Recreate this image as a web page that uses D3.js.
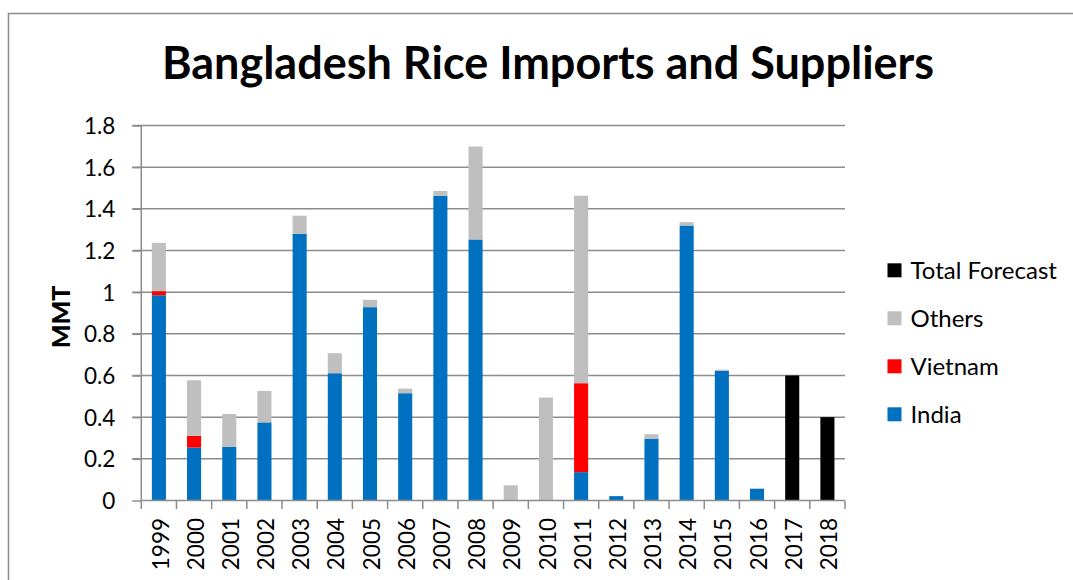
<!DOCTYPE html>
<html><head><meta charset="utf-8">
<script src="https://cdn.jsdelivr.net/npm/d3@7"></script>
<style>
html,body{margin:0;padding:0;background:#fff;}
svg{display:block;font-family:Lato,"Open Sans",sans-serif;}
</style></head>
<body>
<svg id="c" width="1073" height="580"></svg>
<script>
const years = ["1999","2000","2001","2002","2003","2004","2005","2006","2007","2008","2009","2010","2011","2012","2013","2014","2015","2016","2017","2018"];
const india    = [0.985,0.254,0.257,0.375,1.280,0.611,0.928,0.515,1.463,1.253,0,0,0.136,0.021,0.297,1.320,0.622,0.056,0,0];
const vietnam  = [0.020,0.057,0,0,0,0,0,0,0,0,0,0,0.427,0,0,0,0,0,0,0];
const others   = [0.232,0.266,0.158,0.151,0.087,0.096,0.035,0.022,0.023,0.446,0.073,0.494,0.900,0,0.021,0.016,0.006,0.003,0,0];
const forecast = [0,0,0,0,0,0,0,0,0,0,0,0,0,0,0,0,0,0,0.600,0.400];
const yTicks = [0,0.2,0.4,0.6,0.8,1,1.2,1.4,1.6,1.8];
const seriesNames = ["India","Vietnam","Others","Total Forecast"];
const seriesColors = ["#0070C0","#FF0000","#BFBFBF","#000000"];
const legendOrder = ["Total Forecast","Others","Vietnam","India"];
const titleText = "Bangladesh Rice Imports and Suppliers";
const yTitle = "MMT";

const svg = d3.select("#c");
const L = 141.3, R = 845, T = 125.5, B = 500.5;

// frame
svg.append("path").attr("d","M8.5,580 V13.5 H1073").attr("fill","none").attr("stroke","#8c8c8c").attr("stroke-width",1.5);

const x = d3.scaleBand().domain(years).range([L,R]).paddingInner(0.6).paddingOuter(0.3);
const y = d3.scaleLinear().domain([0,1.8]).range([B,T]);

// gridlines
svg.append("g").selectAll("line").data(yTicks.filter(d=>d>0)).join("line")
  .attr("x1",L-9).attr("x2",R).attr("y1",d=>y(d)).attr("y2",d=>y(d))
  .attr("stroke","#8c8c8c").attr("stroke-width",1.5);

// stacked bars
const rows = years.map((yr,i)=>({year:yr,"India":india[i],"Vietnam":vietnam[i],"Others":others[i],"Total Forecast":forecast[i]}));
const stack = d3.stack().keys(seriesNames)(rows);
const color = d3.scaleOrdinal().domain(seriesNames).range(seriesColors);
svg.append("g").selectAll("g").data(stack).join("g").attr("fill",d=>color(d.key))
  .selectAll("rect").data(d=>d).join("rect")
  .attr("x",d=>x(d.data.year)).attr("width",x.bandwidth())
  .attr("y",d=>y(d[1])).attr("height",d=>Math.max(0,y(d[0])-y(d[1])));

// y axis
const yAxis = svg.append("g").attr("transform",`translate(${L},0)`)
  .call(d3.axisLeft(y).tickValues(yTicks).tickFormat(d3.format("~g")).tickSize(9).tickPadding(17));
yAxis.select(".domain").attr("stroke","#8c8c8c").attr("stroke-width",1.5).attr("d",`M0,${T}V${B}`);
yAxis.selectAll(".tick line").attr("stroke","#8c8c8c").attr("stroke-width",1.5);
yAxis.selectAll("text").attr("font-size",22.5).attr("fill","#000").attr("font-family","Lato").attr("dy","0.36em");

// x axis
const xAxis = svg.append("g").attr("transform",`translate(0,${B})`)
  .call(d3.axisBottom(x).tickSize(0).tickPadding(0));
xAxis.select(".domain").attr("stroke","#8c8c8c").attr("stroke-width",1.5).attr("d",`M${L},0H${R}`);
xAxis.selectAll(".tick text").attr("font-size",22.5).attr("fill","#000").attr("font-family","Lato")
  .attr("transform","translate(1.5,17.5) rotate(-90)").attr("text-anchor","end").attr("dy","0.36em").attr("x",0).attr("y",0);
// band boundary ticks
const bounds = d3.range(years.length+1).map(i=> L + i*(R-L)/years.length);
svg.append("g").selectAll("line").data(bounds).join("line")
  .attr("x1",d=>d).attr("x2",d=>d).attr("y1",B).attr("y2",B+8.5)
  .attr("stroke","#8c8c8c").attr("stroke-width",1.5);

// title
svg.append("text").attr("x",548).attr("y",79).attr("text-anchor","middle")
  .attr("font-size",45).attr("font-weight",700).text(titleText);

// y title
svg.append("text").attr("transform","translate(69.5,317) rotate(-90)").attr("text-anchor","middle")
  .attr("font-size",25).style("font-weight","900").text(yTitle);

// legend
const lg = svg.append("g").selectAll("g").data(legendOrder).join("g")
  .attr("transform",(d,i)=>`translate(887.5,${270.3+i*48})`);
lg.append("rect").attr("x",0).attr("y",-7).attr("width",14).attr("height",14).attr("fill",d=>color(d));
lg.append("text").attr("x",23).attr("y",0).attr("dy","0.36em").attr("font-size",24).text(d=>d);
</script>
</body></html>
